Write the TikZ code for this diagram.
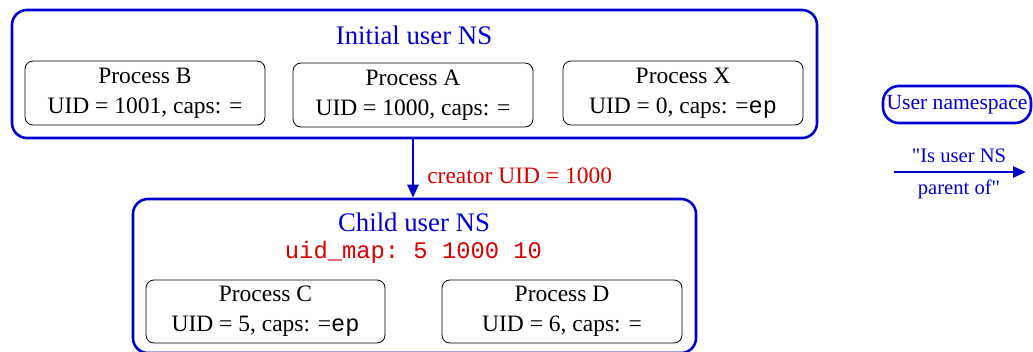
\documentclass[tikz,border=0pt]{standalone}
\usepackage{fontspec}
\setmainfont{Liberation Serif}
\setmonofont{Liberation Mono}
\newfontfamily\plainserif[Ligatures=TeXOff]{Liberation Serif}
\usetikzlibrary{arrows.meta}
\definecolor{nsblue}{rgb}{0,0,0.82}
\definecolor{nsred}{rgb}{0.85,0,0}
\tikzset{
  nsbox/.style={draw=nsblue, line width=2.6pt, rounded corners=15pt, inner sep=0pt},
  procbox/.style={draw=black, line width=0.8pt, rounded corners=8pt, inner sep=0pt,
    minimum width=240pt, minimum height=64pt, align=center,
    font=\fontsize{23.5}{30}\selectfont},
  nstitle/.style={text=nsblue, inner sep=0pt, font=\fontsize{26.8}{30}\selectfont},
  redlabel/.style={text=nsred, inner sep=0pt, font=\fontsize{23.5}{28}\selectfont},
  legendtxt/.style={text=nsblue, inner sep=0pt, font=\plainserif\fontsize{20.6}{24}\selectfont},
  parentarrow/.style={draw=nsblue, line width=2.6pt, -{Triangle[length=13pt,width=11pt]}}
}
\begin{document}
\begin{tikzpicture}[x=1pt,y=-1pt]
\useasboundingbox (0,0) rectangle (1033,351);
% initial user NS
\node[nsbox, minimum width=805pt, minimum height=128pt] (init) at (414.5,74) {};
\node[nstitle] (inittitle) at (414,35) {Initial user NS};
\node[procbox] (pB) at (145,93) {Process B\\UID = 1001, caps: =};
\node[procbox] (pA) at (413,95) {Process A\\UID = 1000, caps: =};
\node[procbox] (pX) at (683,93) {Process X\\UID = 0, caps: =\texttt{ep}};
% child user NS
\node[nsbox, minimum width=563pt, minimum height=154pt] (child) at (414.5,276) {};
\node[nstitle] (childtitle) at (414,222) {Child user NS};
\node[redlabel, font=\fontsize{23.8}{28}\ttfamily] (uidmap) at (413.5,252) {uid\_map: 5 1000 10};
\node[procbox, minimum width=239pt, minimum height=63pt] (pC) at (265.5,311.5) {Process C\\UID = 5, caps: =\texttt{ep}};
\node[procbox, minimum width=240pt, minimum height=63pt] (pD) at (562,311.5) {Process D\\UID = 6, caps: =};
% parent arrow
\draw[parentarrow] (init.south -| 413,0) -- (child.north -| 413,0)
  node[pos=0.62, right=13pt, redlabel] (creator) {creator UID = 1000};
% legend
\node[nsbox, rounded corners=16pt, minimum width=148pt, minimum height=37pt] (legend) at (957,104.5) {};
\node[legendtxt, font=\plainserif\fontsize{21.6}{24}\selectfont] (legendtxt) at (957,104.5) {User namespace};
\coordinate (la) at (894,172);
\coordinate (lb) at (1026,172);
\draw[parentarrow] (la) -- (lb);
\node[legendtxt] (lt1) at (959,156) {"Is user NS};
\node[legendtxt] (lt2) at (959,189) {parent of"};
\end{tikzpicture}
\end{document}
